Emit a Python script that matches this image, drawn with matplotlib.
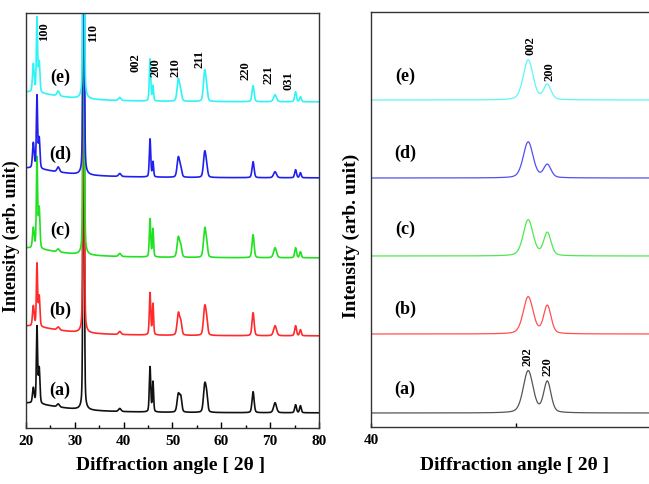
import numpy as np
import matplotlib
matplotlib.use('Agg')
import matplotlib.pyplot as plt

plt.rcParams['font.family'] = ['Liberation Serif', 'DejaVu Serif']
plt.rcParams['font.weight'] = 'bold'

# sample labels, bottom to top
samples = ['(a)', '(b)', '(c)', '(d)', '(e)']
colors_left = ['#111111', '#ff2a2a', '#22e022', '#2020ee', '#30f4f4']
colors_right = ['#555555', '#ff5050', '#50e850', '#5050f0', '#60f6f6']

# left panel: full pattern, 2theta 20-80
peak_pos = [21.5, 22.25, 22.7, 26.6, 31.8, 39.2, 45.4, 46.0, 51.2, 51.7, 56.6, 57.0, 66.5, 71.0, 75.2, 76.2]
peak_hw = [0.2, 0.15, 0.18, 0.3, 0.15, 0.3, 0.17, 0.15, 0.3, 0.25, 0.3, 0.25, 0.25, 0.35, 0.22, 0.2]
heights_left = [
    [15, 76, 35, 3, 420, 3, 45, 30, 18, 14, 27, 14, 21, 10, 8, 7],
    [20, 62, 30, 3, 420, 3, 42, 31, 22, 12, 28, 12, 23, 10, 10, 6],
    [20, 90, 40, 3, 420, 3, 38, 28, 20, 10, 28, 10, 23, 10, 10, 6],
    [25, 72, 30, 5, 420, 3, 38, 15, 20, 8, 25, 8, 16, 6, 8, 5],
    [28, 74, 30, 5, 420, 3, 42, 15, 22, 8, 30, 8, 16, 7, 10, 5],
]
# low-angle background hump (height, centre, half width)
bg_hump = [10, 20.0, 8.0]
offsets_left = [15, 92, 170, 250, 326]

# right panel: zoom 40-50
peak_pos_r = [45.42, 46.08]
peak_hw_r = [0.2, 0.15]
heights_right = [[42, 31], [37, 28], [36, 23], [36, 13], [40, 15]]
offsets_right = [14, 93, 171, 249, 327]

hkl_left = ['100', '110', '002', '200', '210', '211', '220', '221', '031']
hkl_left_x = [23.6, 33.8, 42.5, 46.5, 50.7, 55.5, 65.0, 69.7, 73.8]
hkl_left_y = [396, 395, 365, 360, 360, 369, 357, 353, 347]
hkl_right = ['002', '200', '202', '220']
hkl_right_x = [45.50, 46.15, 45.40, 46.08]
hkl_right_y = [381, 355, 70, 60]


def pseudo_voigt(x, pos, hw, h, eta=0.3):
    g = np.exp(-np.log(2) * ((x - pos) / hw) ** 2)
    l = 1.0 / (1.0 + ((x - pos) / hw) ** 2)
    return h * (eta * l + (1 - eta) * g)


fig = plt.figure(figsize=(6.49, 4.84), dpi=100)
axL = fig.add_axes([26 / 649, 1 - 428 / 484, 293 / 649, 415 / 484])
axR = fig.add_axes([371 / 649, 1 - 427 / 484, 290 / 649, 415 / 484])

x = np.linspace(20, 80, 4000)
for i in range(5):
    y = np.full_like(x, offsets_left[i], dtype=float)
    y += bg_hump[0] / (1 + ((x - bg_hump[1]) / bg_hump[2]) ** 2)
    for p, w, h in zip(peak_pos, peak_hw, heights_left[i]):
        y += pseudo_voigt(x, p, w, h)
    axL.plot(x, y, color=colors_left[i], lw=1.2)

xr = np.linspace(40, 50, 2000)
for i in range(5):
    y = np.full_like(xr, offsets_right[i], dtype=float)
    for p, w, h in zip(peak_pos_r, peak_hw_r, heights_right[i]):
        y += pseudo_voigt(xr, p, w, h)
    axR.plot(xr, y, color=colors_right[i], lw=0.9)

label_y = [38, 118, 198, 274, 351]
for i in range(5):
    axL.text(27.0, label_y[i], samples[i], fontsize=13, ha='center', va='center', fontweight='bold')
    axR.text(41.17, label_y[i], samples[i], fontsize=13, ha='center', va='center', fontweight='bold')

for t, xx, yy in zip(hkl_left, hkl_left_x, hkl_left_y):
    axL.text(xx, yy, t, rotation=90, fontsize=9, ha='center', va='center', fontweight='bold')
for t, xx, yy in zip(hkl_right, hkl_right_x, hkl_right_y):
    axR.text(xx, yy, t, rotation=90, fontsize=9, ha='center', va='center', fontweight='bold')

axL.set_xlim(20, 80)
axL.set_ylim(0, 415)
axL.set_xticks(range(20, 81, 10))
axL.set_xticks(range(25, 80, 10), minor=True)
axL.set_yticks([])
axL.tick_params(axis='x', direction='in', length=4, width=1, labelsize=11, pad=5)
axL.tick_params(axis='x', which='minor', direction='in', length=2.5, width=1)
for lab in axL.get_xticklabels():
    lab.set_fontweight('bold')

axR.set_xlim(40, 50)
axR.set_ylim(0, 415)
axR.set_xticks([40, 45])
axR.set_xticklabels(['40', ''])
axR.set_yticks([])
axR.tick_params(axis='x', direction='in', length=3, width=1, labelsize=11, pad=5)
for lab in axR.get_xticklabels():
    lab.set_fontweight('bold')

for ax in (axL, axR):
    for s in ax.spines.values():
        s.set_linewidth(1.0)
        s.set_color('#333333')

fig.text(171 / 649, 1 - 466 / 484, 'Diffraction angle [ 2\u03b8 ]', fontsize=14,
         fontweight='bold', ha='center', va='center')
fig.text(515 / 649, 1 - 466 / 484, 'Diffraction angle [ 2\u03b8 ]', fontsize=14,
         fontweight='bold', ha='center', va='center')
fig.text(351 / 649, 1 - 236 / 484, 'Intensity (arb. unit)', fontsize=14, rotation=90,
         fontweight='bold', ha='center', va='center')
fig.text(11 / 649, 1 - 236 / 484, 'Intensity (arb. unit)', fontsize=13, rotation=90,
         fontweight='bold', ha='center', va='center')

fig.savefig('out.png', dpi=100)
